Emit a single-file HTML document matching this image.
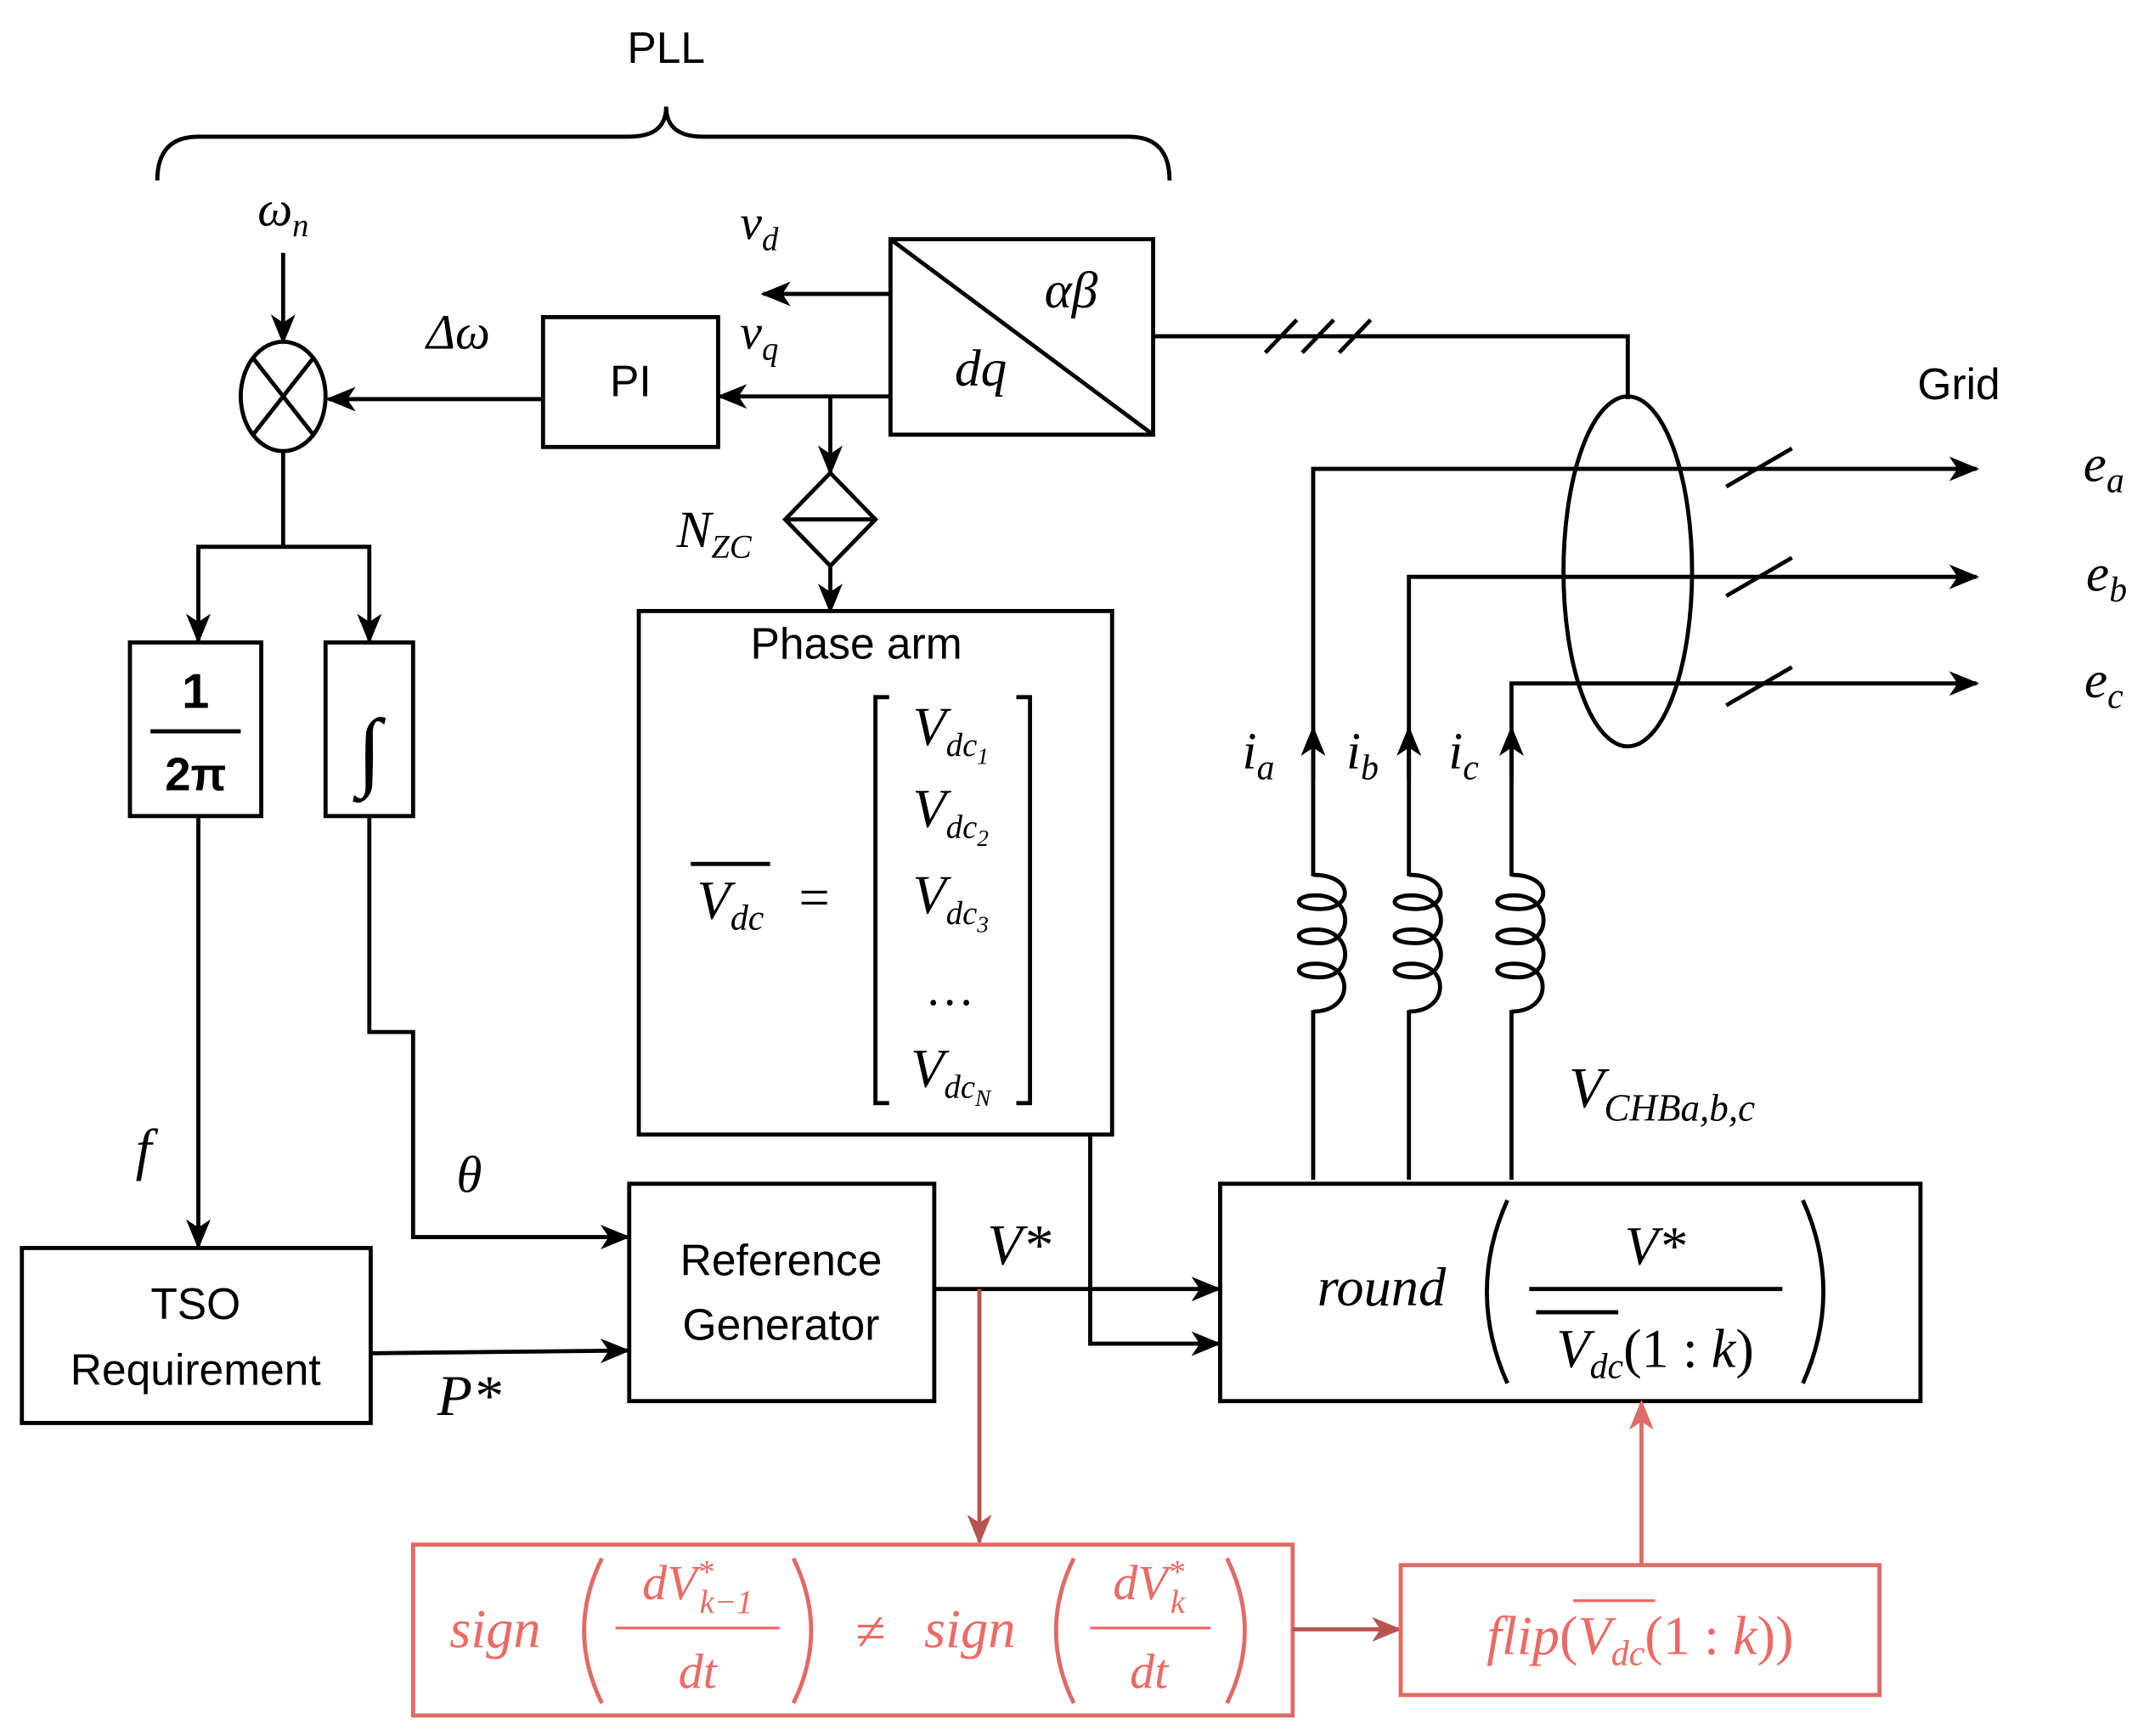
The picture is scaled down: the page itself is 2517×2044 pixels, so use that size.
<!DOCTYPE html>
<html><head><meta charset="utf-8"><style>
html,body{margin:0;padding:0;background:#fff;}
svg{display:block;}
.s{font-family:"Liberation Sans",sans-serif;}
.m{font-family:"Liberation Serif",serif;font-style:italic;}
</style></head><body>
<svg width="2517" height="2044" viewBox="0 0 1563 1270" preserveAspectRatio="none" xmlns="http://www.w3.org/2000/svg">
<defs>
<marker id="a" markerWidth="22" markerHeight="22" refX="20" refY="11" orient="auto" markerUnits="userSpaceOnUse" viewBox="0 0 22 22"><path d="M0,2 L22,11 L0,20 L6,11 Z" style="fill:#000;stroke:none"/></marker>
<marker id="r" markerWidth="22" markerHeight="22" refX="20" refY="11" orient="auto" markerUnits="userSpaceOnUse" viewBox="0 0 22 22"><path d="M0,2 L22,11 L0,20 L6,11 Z" style="fill:#b85450;stroke:none"/></marker>
<marker id="r2" markerWidth="22" markerHeight="22" refX="20" refY="11" orient="auto" markerUnits="userSpaceOnUse" viewBox="0 0 22 22"><path d="M0,2 L22,11 L0,20 L6,11 Z" style="fill:#e06a66;stroke:none"/></marker>
</defs>
<style>
line,path,polyline,rect,ellipse{stroke:#000;stroke-width:3;fill:none;}
</style>
<text x="487" y="46" class="s" font-size="32" text-anchor="middle">PLL</text>
<path d="M115,132 Q115,100 145,100 L460,100 Q487,100 487,78 Q487,100 514,100 L825,100 Q855,100 855,132"/>
<text x="207" y="165" class="m" font-size="36" text-anchor="middle">ω<tspan font-size="24" dy="8">n</tspan></text>
<line x1="207" y1="185" x2="207" y2="250" style="marker-end:url(#a)"/>
<ellipse cx="207" cy="290" rx="31" ry="40"/>
<line x1="185" y1="262" x2="229" y2="318"/><line x1="229" y1="262" x2="185" y2="318"/>
<rect x="397" y="232" width="128" height="95"/>
<text x="461" y="290" class="s" font-size="32" text-anchor="middle">PI</text>
<line x1="397" y1="292" x2="240" y2="292" style="marker-end:url(#a)"/>
<text x="335" y="255" class="m" font-size="36" text-anchor="middle">Δω</text>
<rect x="651" y="175" width="192" height="143"/>
<line x1="651" y1="175" x2="843" y2="318"/>
<text x="783" y="225" class="m" font-size="38" text-anchor="middle">αβ</text>
<text x="717" y="282" class="m" font-size="38" text-anchor="middle">dq</text>
<line x1="651" y1="215" x2="558" y2="215" style="marker-end:url(#a)"/>
<text x="555" y="175" class="m" font-size="36" text-anchor="middle">v<tspan font-size="24" dy="8">d</tspan></text>
<line x1="651" y1="290" x2="526" y2="290" style="marker-end:url(#a)"/>
<text x="555" y="255" class="m" font-size="36" text-anchor="middle">v<tspan font-size="24" dy="8">q</tspan></text>
<line x1="607" y1="290" x2="607" y2="346" style="marker-end:url(#a)"/>
<path d="M607,346 L640,380 L607,414 L574,380 Z"/><line x1="574" y1="380" x2="640" y2="380"/>
<line x1="607" y1="414" x2="607" y2="447" style="marker-end:url(#a)"/>
<text x="522" y="400" class="m" font-size="38" text-anchor="middle">N<tspan font-size="24" dy="8">ZC</tspan></text>
<rect x="467" y="447" width="346" height="383"/>
<text x="626" y="482" class="s" font-size="32" text-anchor="middle">Phase arm</text>
<line x1="505" y1="632" x2="563" y2="632" stroke-width="2"/>
<text x="534" y="672" class="m" font-size="40" text-anchor="middle">V<tspan font-size="26" dy="8">dc</tspan></text>
<text x="595" y="670" class="m" font-size="40" text-anchor="middle" font-style="normal">=</text>
<path d="M650,510 L640,510 L640,807 L650,807"/><path d="M743,510 L753,510 L753,807 L743,807"/>
<text x="695" y="545" class="m" font-size="40" text-anchor="middle">V<tspan font-size="24" dy="8">dc<tspan font-size="17" dy="6">1</tspan></tspan></text>
<text x="695" y="605" class="m" font-size="40" text-anchor="middle">V<tspan font-size="24" dy="8">dc<tspan font-size="17" dy="6">2</tspan></tspan></text>
<text x="695" y="668" class="m" font-size="40" text-anchor="middle">V<tspan font-size="24" dy="8">dc<tspan font-size="17" dy="6">3</tspan></tspan></text>
<text x="695" y="735" class="m" font-size="36" text-anchor="middle" font-style="normal">…</text>
<text x="695" y="795" class="m" font-size="40" text-anchor="middle">V<tspan font-size="24" dy="8">dc<tspan font-size="17" dy="6">N</tspan></tspan></text>
<polyline points="843,246 1190,246 1190,292"/>
<line x1="925" y1="258" x2="948" y2="234"/><line x1="952" y1="258" x2="975" y2="234"/><line x1="979" y1="258" x2="1002" y2="234"/>
<ellipse cx="1190" cy="418" rx="47" ry="128"/>
<text x="1432" y="292" class="s" font-size="32" text-anchor="middle">Grid</text>
<polyline points="960,863 960,343 1445,343" style="marker-end:url(#a)"/>
<polyline points="1030,863 1030,422 1445,422" style="marker-end:url(#a)"/>
<polyline points="1105,863 1105,500 1445,500" style="marker-end:url(#a)"/>
<line x1="1262" y1="356" x2="1310" y2="328"/><line x1="1262" y1="436" x2="1310" y2="408"/><line x1="1262" y1="516" x2="1310" y2="488"/>
<text x="1538" y="352" class="m" font-size="38" text-anchor="middle">e<tspan font-size="26" dy="8">a</tspan></text>
<text x="1540" y="432" class="m" font-size="38" text-anchor="middle">e<tspan font-size="26" dy="8">b</tspan></text>
<text x="1538" y="510" class="m" font-size="38" text-anchor="middle">e<tspan font-size="26" dy="8">c</tspan></text>
<line x1="960" y1="570" x2="960" y2="533" style="marker-end:url(#a)"/>
<line x1="1030" y1="570" x2="1030" y2="533" style="marker-end:url(#a)"/>
<line x1="1105" y1="570" x2="1105" y2="533" style="marker-end:url(#a)"/>
<text x="920" y="562" class="m" font-size="38" text-anchor="middle">i<tspan font-size="26" dy="8">a</tspan></text>
<text x="996" y="562" class="m" font-size="38" text-anchor="middle">i<tspan font-size="26" dy="8">b</tspan></text>
<text x="1070" y="562" class="m" font-size="38" text-anchor="middle">i<tspan font-size="26" dy="8">c</tspan></text>
<g>
<rect x="940" y="641" width="60" height="98" style="stroke:none;fill:#fff"/>
<rect x="1010" y="641" width="60" height="98" style="stroke:none;fill:#fff"/>
<rect x="1085" y="641" width="60" height="98" style="stroke:none;fill:#fff"/>
<path d="M960,640 C990,640 990,665 965,665 C945,665 945,655 962,655 C990,655 990,690 965,690 C945,690 945,680 962,680 C990,680 990,715 965,715 C945,715 945,705 962,705 C990,705 990,740 960,740"/>
<path d="M1030,640 C1060,640 1060,665 1035,665 C1015,665 1015,655 1032,655 C1060,655 1060,690 1035,690 C1015,690 1015,680 1032,680 C1060,680 1060,715 1035,715 C1015,715 1015,705 1032,705 C1060,705 1060,740 1030,740"/>
<path d="M1105,640 C1135,640 1135,665 1110,665 C1090,665 1090,655 1107,655 C1135,655 1135,690 1110,690 C1090,690 1090,680 1107,680 C1135,680 1135,715 1110,715 C1090,715 1090,705 1107,705 C1135,705 1135,740 1105,740"/>
</g>
<text x="1215" y="810" class="m" font-size="42" text-anchor="middle">V<tspan font-size="28" dy="10">CHBa,b,c</tspan></text>
<rect x="892" y="866" width="512" height="159"/>
<text x="1010" y="955" class="m" font-size="40" text-anchor="middle">round</text>
<path d="M1102,878 Q1072,945 1102,1012"/>
<path d="M1318,878 Q1348,945 1318,1012"/>
<text x="1210" y="925" class="m" font-size="40" text-anchor="middle">V*</text>
<line x1="1118" y1="943" x2="1303" y2="943" stroke-width="2"/>
<line x1="1123" y1="960" x2="1183" y2="960" stroke-width="2"/>
<text x="1210" y="1000" class="m" font-size="40" text-anchor="middle">V<tspan font-size="26" dy="8">dc</tspan><tspan dy="-8" font-style="normal">(1 : </tspan>k<tspan font-style="normal">)</tspan></text>
<rect x="95" y="470" width="96" height="127"/>
<text x="143" y="518" class="s" font-size="36" text-anchor="middle" font-weight="bold">1</text>
<line x1="110" y1="535" x2="176" y2="535" stroke-width="2"/>
<text x="143" y="578" class="s" font-size="34" text-anchor="middle" font-weight="bold">2π</text>
<rect x="238" y="470" width="64" height="127"/>
<text x="270" y="570" class="m" font-size="64" text-anchor="middle">∫</text>
<polyline points="207,330 207,400 145,400 145,469" style="marker-end:url(#a)"/>
<polyline points="207,400 270,400 270,469" style="marker-end:url(#a)"/>
<line x1="145" y1="597" x2="145" y2="912" style="marker-end:url(#a)"/>
<text x="105" y="855" class="m" font-size="42" text-anchor="middle">f</text>
<polyline points="270,597 270,755 302,755 302,905 459,905" style="marker-end:url(#a)"/>
<text x="343" y="872" class="m" font-size="38" text-anchor="middle">θ</text>
<rect x="16" y="913" width="255" height="128"/>
<text x="143" y="965" class="s" font-size="32" text-anchor="middle">TSO</text>
<text x="143" y="1013" class="s" font-size="32" text-anchor="middle">Requirement</text>
<line x1="271" y1="990" x2="459" y2="988" style="marker-end:url(#a)"/>
<text x="343" y="1035" class="m" font-size="42" text-anchor="middle">P*</text>
<rect x="460" y="866" width="223" height="159"/>
<text x="571" y="933" class="s" font-size="32" text-anchor="middle">Reference</text>
<text x="571" y="980" class="s" font-size="32" text-anchor="middle">Generator</text>
<line x1="683" y1="943" x2="891" y2="943" style="marker-end:url(#a)"/>
<text x="745" y="925" class="m" font-size="42" text-anchor="middle">V*</text>
<polyline points="797,830 797,983 891,983" style="marker-end:url(#a)"/>
<line x1="716" y1="943" x2="716" y2="1128" style="stroke:#b85450;marker-end:url(#r)"/>
<rect x="302" y="1130" width="643" height="125" style="stroke:#e06a66"/>
<line x1="945" y1="1192" x2="1023" y2="1192" style="stroke:#b85450;marker-end:url(#r)"/>
<rect x="1024" y="1145" width="350" height="95" style="stroke:#e06a66"/>
<line x1="1200" y1="1145" x2="1200" y2="1026" style="stroke:#e06a66;marker-end:url(#r2)"/>
<path d="M440,1140 Q414,1193 440,1246" style="stroke:#e06a66"/>
<path d="M580,1140 Q606,1193 580,1246" style="stroke:#e06a66"/>
<path d="M785,1140 Q759,1193 785,1246" style="stroke:#e06a66"/>
<path d="M897,1140 Q923,1193 897,1246" style="stroke:#e06a66"/>
<g fill="#ea6b66">
<text x="362" y="1205" class="m" font-size="40" text-anchor="middle">sign</text>
<text x="510" y="1170" class="m" font-size="36" text-anchor="middle">dV<tspan font-size="24" dy="-12">*</tspan><tspan font-size="24" dx="-10" dy="22">k−1</tspan></text>
<rect x="450" y="1190" width="120" height="2" style="stroke:none;fill:#ea6b66"/>
<text x="510" y="1235" class="m" font-size="36" text-anchor="middle">dt</text>
<text x="636" y="1207" class="m" font-size="40" font-style="normal" text-anchor="middle">≠</text>
<text x="709" y="1205" class="m" font-size="40" text-anchor="middle">sign</text>
<text x="840" y="1170" class="m" font-size="36" text-anchor="middle">dV<tspan font-size="24" dy="-12">*</tspan><tspan font-size="24" dx="-10" dy="22">k</tspan></text>
<rect x="797" y="1190" width="88" height="2" style="stroke:none;fill:#ea6b66"/>
<text x="840" y="1235" class="m" font-size="36" text-anchor="middle">dt</text>
<text x="1199" y="1210" class="m" font-size="40" text-anchor="middle">flip<tspan font-style="normal">(</tspan>V<tspan font-size="26" dy="8">dc</tspan><tspan dy="-8" font-style="normal">(1 : </tspan>k<tspan font-style="normal">))</tspan></text>
<rect x="1150" y="1170" width="60" height="2" style="stroke:none;fill:#ea6b66"/>
</g>
</svg>
</body></html>
